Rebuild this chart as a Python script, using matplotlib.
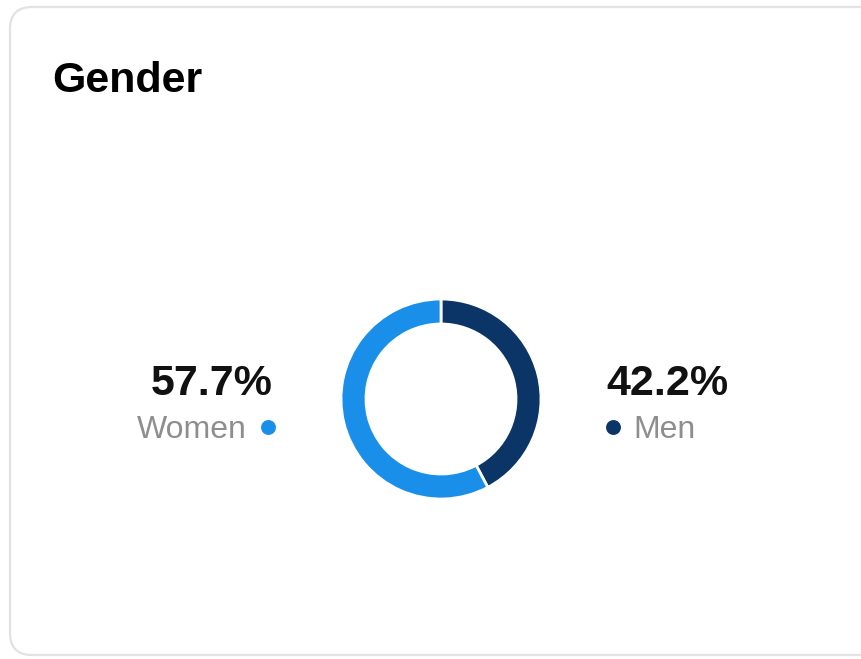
import matplotlib.pyplot as plt
from matplotlib.patches import FancyBboxPatch

# data
labels = ["Men", "Women"]
shares = [42.2, 57.7]
colors = ["#0b3566", "#1a8fea"]
title = "Gender"

W, H = 861, 659
plt.rcParams['font.family'] = ['Liberation Sans', 'DejaVu Sans']

fig = plt.figure(figsize=(W / 100, H / 100), dpi=100)
ax = fig.add_axes([0, 0, 1, 1])


def py(y):
    # convert pixel row (from top) to data y
    return H - y


# card background
card = FancyBboxPatch((10, py(655)), 900, 648, boxstyle="round,pad=0,rounding_size=22",
                      facecolor="white", edgecolor="#e2e2e2", linewidth=1.6)
ax.add_patch(card)

# donut
ax.pie(shares, colors=colors, startangle=90, counterclock=False,
       center=(441, py(399)), radius=100,
       wedgeprops=dict(width=25, edgecolor="white", linewidth=2))

ax.set_xlim(0, W)
ax.set_ylim(0, H)
ax.set_aspect("auto")
ax.axis("off")

ax.text(52, py(92), title, fontsize=31, fontweight="bold", ha="left", va="baseline")

# women (left)
ax.text(273, py(395), f"{shares[1]}%", fontsize=31, fontweight="bold",
        ha="right", va="baseline", color="#111111")
ax.text(247, py(438), labels[1], fontsize=23, color="#8e8e8e", ha="right", va="baseline")
ax.scatter([268], [py(427)], s=115, color=colors[1], zorder=5, linewidths=0)

# men (right)
ax.text(606, py(395), f"{shares[0]}%", fontsize=31, fontweight="bold",
        ha="left", va="baseline", color="#111111")
ax.text(633, py(438), labels[0], fontsize=23, color="#8e8e8e", ha="left", va="baseline")
ax.scatter([613], [py(427)], s=115, color=colors[0], zorder=5, linewidths=0)

fig.savefig("out.png", dpi=100, facecolor="white")
